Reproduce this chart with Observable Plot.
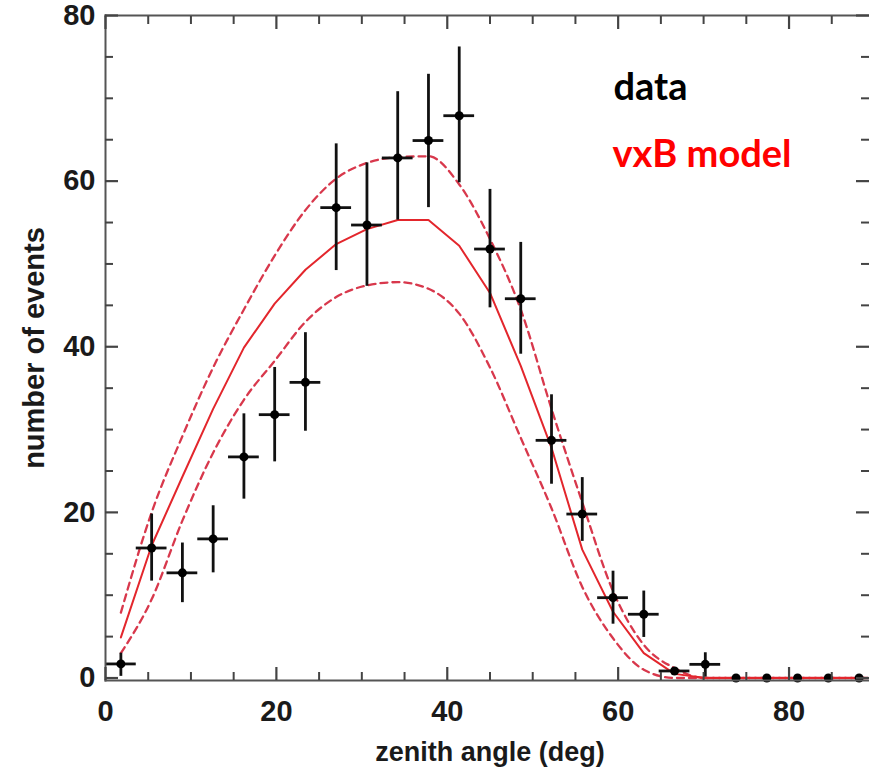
<!DOCTYPE html>
<html><head><meta charset="utf-8">
<script src="https://cdn.jsdelivr.net/npm/d3@7"></script>
<script src="https://cdn.jsdelivr.net/npm/@observablehq/plot@0.6"></script>
<style>html,body{margin:0;padding:0;background:#fff;overflow:hidden}</style>
</head><body><div id="chart"></div>
<script>
// Data: zenith-angle histogram (bins of 3.6 deg) with error bars
const binCenters = [1.8,5.4,9.0,12.6,16.2,19.8,23.4,27.0,30.6,34.2,37.8,41.4,45.0,48.6,52.2,55.8,59.4,63.0,66.6,70.2,73.8,77.4,81.0,84.6,88.2];
const counts  = [1.7,15.7,12.7,16.8,26.7,31.8,35.7,56.8,54.7,62.8,64.9,67.9,51.8,45.8,28.7,19.8,9.7,7.7,0.85,1.65,0,0,0,0,0];
const errLow  = [0.2,11.7,9.1,12.7,21.6,26.1,29.8,49.2,47.3,55.3,56.8,59.8,44.7,39.1,23.4,16.5,6.5,4.9,0.85,0.1,0,0,0,0,0];
const errHigh = [3.0,19.8,16.3,20.8,31.9,37.5,41.7,64.5,62.2,70.8,72.9,76.2,59.0,52.6,34.2,24.2,12.9,10.5,0.85,3.05,0,0,0,0,0];
const halfBin = 1.8;

// vxB model curves (central and band)
const modelX     = [1.8,5.4,9.0,12.6,16.2,19.8,23.4,27.0,30.6,34.2,37.8,41.4,45.0,48.6,52.2,55.8,59.4,63.0,66.6,70.2,73.8,77.4,81.0,84.6,88.2,90];
const modelMid   = [4.9,16,24.3,32.5,39.9,45.2,49.3,52.4,54.2,55.3,55.3,52.2,46.5,37.7,27.8,15.5,8.0,3.0,0.5,0,0,0,0,0,0,0];
const modelUpper = [7.9,20,29.2,37.5,44.5,51,56.5,60.3,62.2,62.9,63,59.6,53,44.5,32.5,21.2,10.5,4,1.2,0,0,0,0,0,0,0];
const modelLower = [3,9.5,19,27.2,33.6,38.3,43,46,47.4,47.8,47,44,37.5,29,20.5,11,4.8,1,0,0,0,0,0,0,0,0];

const xMajor = [0,20,40,60,80];
const yMajor = [0,20,40,60,80];
const xMinor = d3.range(5,90,5).filter(v => v % 20 !== 0);
const yMinor = d3.range(5,80,5).filter(v => v % 20 !== 0);

const legendData = ["data"];
const legendModel = ["vxB model"];
const xLabel = ["zenith angle (deg)"];
const yLabel = ["number of events"];

const points = binCenters.map((x,i) => ({x, y: counts[i], lo: errLow[i], hi: errHigh[i]}));
const model = modelX.map((x,i) => ({x, mid: modelMid[i], up: modelUpper[i], low: modelLower[i]}));

const red = "#e3262c";
const dashRed = "#d8384c";
const frameCol = "#555555";
const tickCol = "#444444";
const labelFont = "'Liberation Sans', Arial, sans-serif";

const chart = Plot.plot({
  width: 869, height: 772,
  marginLeft: 105, marginRight: 1, marginTop: 15, marginBottom: 92,
  x: {domain: [0, 89.3]},
  y: {domain: [-0.3, 80]},
  style: {fontFamily: labelFont, background: "white", color: "#1a1a1a"},
  marks: [
    Plot.line(model, {x: "x", y: "up", stroke: dashRed, strokeWidth: 2.3, strokeDasharray: "7,5", curve: "monotone-x", clip: true}),
    Plot.line(model, {x: "x", y: "low", stroke: dashRed, strokeWidth: 2.3, strokeDasharray: "7,5", curve: "monotone-x", clip: true}),
    Plot.line(model, {x: "x", y: "mid", stroke: red, strokeWidth: 2, clip: true}),
    Plot.ruleX(points.filter(d => d.hi > d.lo), {x: "x", y1: "lo", y2: "hi", stroke: "#111", strokeWidth: 2.8}),
    Plot.ruleY(points.filter(d => d.y > 0), {y: "y", x1: d => d.x - halfBin, x2: d => d.x + halfBin, stroke: "#111", strokeWidth: 2.8}),
    Plot.dot(points, {x: "x", y: "y", r: 4.5, fill: "#000"}),
    Plot.frame({anchor: "left", stroke: frameCol, strokeWidth: 2}),
    Plot.frame({anchor: "top", stroke: frameCol, strokeWidth: 2}),
    Plot.frame({anchor: "bottom", stroke: frameCol, strokeWidth: 2}),
    // inward ticks on all sides
    Plot.axisX(xMajor, {anchor: "bottom", tickSize: -13, fill: "none", label: null, stroke: tickCol, strokeWidth: 2.2}),
    Plot.axisX(xMinor, {anchor: "bottom", tickSize: -8, fill: "none", label: null, stroke: tickCol, strokeWidth: 2}),
    Plot.axisX(xMajor, {anchor: "top", tickSize: -13, fill: "none", label: null, stroke: tickCol, strokeWidth: 2.2}),
    Plot.axisX(xMinor, {anchor: "top", tickSize: -8, fill: "none", label: null, stroke: tickCol, strokeWidth: 2}),
    Plot.axisY(yMajor, {anchor: "left", tickSize: -13, fill: "none", label: null, stroke: tickCol, strokeWidth: 2.2}),
    Plot.axisY(yMinor, {anchor: "left", tickSize: -8, fill: "none", label: null, stroke: tickCol, strokeWidth: 2}),
    Plot.axisY(yMajor, {anchor: "right", tickSize: -13, fill: "none", label: null, stroke: tickCol, strokeWidth: 2.2}),
    Plot.axisY(yMinor, {anchor: "right", tickSize: -8, fill: "none", label: null, stroke: tickCol, strokeWidth: 2}),
    // tick labels
    Plot.axisX(xMajor, {anchor: "bottom", tickSize: 0, tickPadding: 20, label: null, fontSize: 29, fontWeight: "bold", fill: "#1a1a1a"}),
    Plot.axisY(yMajor, {anchor: "left", tickSize: 0, tickPadding: 10, label: null, fontSize: 29, fontWeight: "bold", fill: "#1a1a1a"}),
    // axis titles
    Plot.text(xLabel, {frameAnchor: "bottom", dx: 3, dy: 72, text: d => d, fontSize: 27, fontWeight: "bold", fill: "#1a1a1a", textAnchor: "middle", lineAnchor: "middle"}),
    Plot.text(yLabel, {frameAnchor: "left", dx: -71, rotate: -90, text: d => d, fontSize: 29, fontWeight: "bold", fill: "#1a1a1a", textAnchor: "middle", lineAnchor: "middle"}),
    // legend
    Plot.text(legendData, {frameAnchor: "top-left", dx: 508, dy: 72, text: d => d, fontSize: 38, fontWeight: "bold", fontFamily: "Lato, 'Open Sans', sans-serif", fill: "#000", textAnchor: "start", lineAnchor: "middle"}),
    Plot.text(legendModel, {frameAnchor: "top-left", dx: 507, dy: 139, text: d => d, fontSize: 38, fontWeight: "bold", fontFamily: "Lato, 'Open Sans', sans-serif", fill: "#ff0000", textAnchor: "start", lineAnchor: "middle"})
  ]
});
document.getElementById("chart").appendChild(chart);
</script>
</body></html>
